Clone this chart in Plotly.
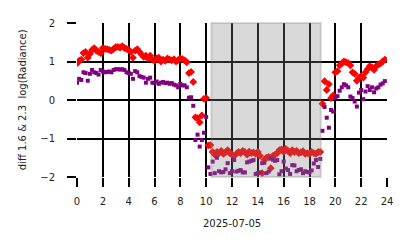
import plotly.graph_objects as go

# time grid: hours of the day, 10-minute sampling
hours = [i / 6 for i in range(144)]

red_vals = [
    0.95, 1.02, 1.05, 1.22, 1.25, 1.10, 1.20, 1.30, 1.35, 1.28, 1.25, 1.22,
    1.35, 1.33, 1.32, 1.30, 1.28, 1.33, 1.37, 1.38, 1.36, 1.40, 1.35, 1.33,
    1.30, 1.25, 1.10, 1.28, 1.32, 1.25, 1.18, 1.12, 1.15, 1.08, 1.15, 1.05,
    1.02, 1.08, 1.10, 1.00, 1.05, 1.02, 1.08, 1.05, 1.03, 1.06, 1.00, 1.04,
    1.08, 1.06, 1.03, 0.98, 0.70, 0.73, 0.47, -0.45, -0.47, -0.58, -0.40, 0.03,
    0.05, -1.18, -1.17, -1.35, -1.42, -1.35, -1.38, -1.32, -1.40, -1.36, -1.30, -1.38,
    -1.42, -1.45, -1.40, -1.35, -1.38, -1.32, -1.35, -1.42, -1.34, -1.38, -1.36, -1.40,
    -1.35, -1.45, -1.90, -1.55, -1.50, -1.48, -1.77, -1.45, -1.42, -1.38, -1.30, -1.28,
    -1.35, -1.27, -1.32, -1.38, -1.30, -1.35, -1.32, -1.38, -1.36, -1.33, -1.40, -1.38,
    -1.40, -1.35, -1.38, -1.40, -1.35, -1.35, -0.10, 0.49, 0.26, 0.41, 0.05, 0.12,
    0.72, 0.75, 0.90, 0.95, 1.00, 0.98, 0.96, 0.90, 0.72, 0.68, 0.50, 0.58,
    0.62, 0.58, 0.72, 0.80, 0.88, 0.85, 0.78, 0.88, 0.92, 0.95, 1.00, 1.05,
]

purple_vals = [
    0.45, 0.55, 0.52, 0.72, 0.70, 0.50, 0.68, 0.78, 0.72, 0.70, 0.66, 0.78,
    0.74, 0.72, 0.73, 0.74, 0.72, 0.78, 0.80, 0.80, 0.79, 0.80, 0.78, 0.72,
    0.70, 0.68, 0.55, 0.75, 0.72, 0.62, 0.60, 0.58, 0.45, 0.55, 0.58, 0.45,
    0.44, 0.48, 0.42, 0.45, 0.47, 0.44, 0.45, 0.42, 0.44, 0.40, 0.38, 0.33,
    0.42, 0.38, 0.38, 0.33, 0.06, 0.07, -0.15, -1.04, -0.90, -1.21, -1.04, -0.85,
    -0.44, -1.75, -1.92, -1.60, -1.90, -1.50, -1.85, -1.88, -1.87, -1.80, -1.64, -1.90,
    -1.85, -1.56, -1.86, -1.84, -1.82, -1.88, -1.88, -1.62, -1.60, -1.58, -1.56, -1.92,
    -1.90, -1.88, -1.64, -1.63, -1.90, -1.86, -1.52, -1.55, -1.58, -1.56, -1.93, -1.85,
    -1.60, -1.78, -1.82, -1.92, -1.69, -1.70, -1.85, -1.82, -1.80, -1.90, -1.85, -1.87,
    -1.88, -1.83, -1.65, -1.56, -1.74, -1.53, -0.80, -0.18, -0.46, -0.72, -0.26, -0.30,
    0.06, 0.10, 0.24, 0.33, 0.41, 0.38, 0.33, 0.09, 0.05, -0.04, -0.17, 0.19,
    0.26, 0.02, 0.22, 0.36, 0.26, 0.33, 0.20, 0.30, 0.33, 0.40, 0.43, 0.49,
]

night_start = 10.4
night_end = 18.87

x_ticks = [0, 2, 4, 6, 8, 10, 12, 14, 16, 18, 20, 22, 24]
y_ticks = [-2, -1, 0, 1, 2]

fig = go.Figure()
fig.add_trace(go.Scatter(
    x=hours, y=red_vals, mode="markers",
    marker=dict(symbol="diamond", size=6, color="#ff0000", line=dict(width=0)),
    showlegend=False,
))
fig.add_trace(go.Scatter(
    x=hours, y=purple_vals, mode="markers",
    marker=dict(symbol="square", size=4, color="#800080", line=dict(width=0)),
    showlegend=False,
))

fig.add_shape(
    type="rect", xref="x", yref="paper",
    x0=night_start, x1=night_end, y0=0, y1=1,
    fillcolor="rgba(128,128,128,0.3)",
    line=dict(color="rgba(128,128,128,0.3)", width=2),
    layer="above",
)

axis_common = dict(
    showgrid=True, gridcolor="black", gridwidth=2,
    ticks="outside", ticklen=9, tickwidth=2, tickcolor="black",
    tickfont=dict(family="DejaVu Sans", size=10, color="#222"),
    zeroline=False, showline=False,
)

fig.update_xaxes(range=[0, 24], tickvals=x_ticks, ticklabelstandoff=6, **axis_common)
fig.update_yaxes(range=[-2, 2], tickvals=y_ticks, ticklabelstandoff=10, **axis_common)

fig.add_annotation(
    text="2025-07-05", xref="paper", yref="paper", x=0.5, y=-0.30,
    showarrow=False, font=dict(family="DejaVu Sans", size=10, color="#222"),
    xanchor="center", yanchor="middle",
)
fig.add_annotation(
    text="diff 1.6 &amp; 2.3  log(Radiance)", xref="paper", yref="paper",
    x=-0.177, y=0.5, textangle=-90, showarrow=False,
    font=dict(family="DejaVu Sans", size=10, color="#222"),
    xanchor="center", yanchor="middle",
)

fig.update_layout(
    width=414, height=248,
    margin=dict(l=77, r=27, t=23, b=71),
    paper_bgcolor="white", plot_bgcolor="white",
)

fig.write_html("out.html")
